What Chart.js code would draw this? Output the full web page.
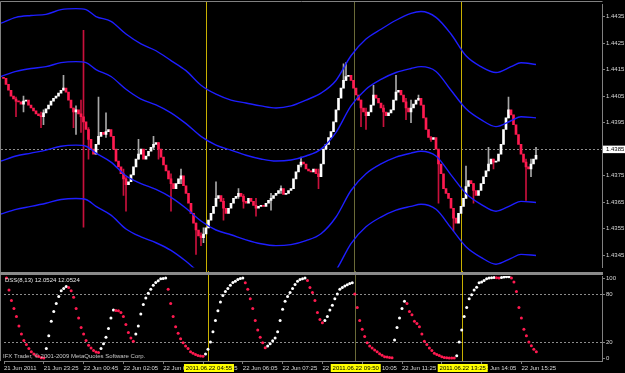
<!DOCTYPE html>
<html>
<head>
<meta charset="utf-8">
<script src="https://cdn.jsdelivr.net/npm/chart.js@4.4.1/dist/chart.umd.min.js"></script>
<style>
  html, body { margin: 0; padding: 0; background: #000; }
  #cadre { position: relative; width: 625px; height: 373px; overflow: hidden; background: #000; }
  #principal { position: absolute; left: 0; top: 0; }
  #dss { position: absolute; left: 0; top: 271px; }
</style>
</head>
<body>
<div id="cadre">
  <canvas id="principal" width="625" height="272"></canvas>
  <canvas id="dss" width="625" height="102"></canvas>
</div>
<script>
/* Graphique EURUSD M5 + indicateur DSS, façon MetaTrader */

const POLICE = '"Liberation Sans", Arial, sans-serif';
const GRIS = '#808080';
const TEXTE = '#d8d8d8';
const ROUGE = '#ff1a50';

// Numéro de barre de la première bougie
const premiereBarre = 1;
const derniereBarreAxe = 240.4;

// Axe des temps
const barresTemps = [0, 16, 32, 48, 64, 80, 96, 112, 128, 144, 160, 176, 192, 208];
const labelsTemps = ['21 Jun 2011', '21 Jun 23:25', '22 Jun 00:45', '22 Jun 02:05', '22 Jun 03:25',
    '22 Jun 04:45', '22 Jun 06:05', '22 Jun 07:25', '22 Jun 08:45', '22 Jun 10:05',
    '22 Jun 11:25', '22 Jun 12:45', '22 Jun 14:05', '22 Jun 15:25'];

// Lignes verticales
const barresMarqueurs = [82, 141, 184];
const labelsMarqueurs = ['2011.06.22 04:55', '2011.06.22 09:50', '2011.06.22 13:25'];
const couleursMarqueurs = ['#c8b000', '#6a6a38', '#c8b000'];

// Axe des prix
const ticksPrix = [1.4345, 1.4355, 1.4365, 1.4375, 1.4385, 1.4395, 1.4405, 1.4415, 1.4425, 1.4435];
const prixCourant = 1.4385;

// Bougies
const ouvertures = [
    1.44120, 1.44117, 1.44094, 1.44072, 1.44050, 1.44039, 1.44031, 1.44028, 1.44020, 1.44031,
    1.44035, 1.44016, 1.44005, 1.43994, 1.43983, 1.43976, 1.43972, 1.43987, 1.44002, 1.44016,
    1.44031, 1.44042, 1.44050, 1.44061, 1.44072, 1.44080, 1.44065, 1.44035, 1.44005, 1.43990,
    1.43998, 1.43983, 1.43972, 1.43953, 1.43924, 1.43887, 1.43850, 1.43831, 1.43868, 1.43898,
    1.43913, 1.43905, 1.43916, 1.43924, 1.43898, 1.43850, 1.43805, 1.43783, 1.43757, 1.43738,
    1.43716, 1.43727, 1.43753, 1.43783, 1.43812, 1.43831, 1.43850, 1.43812, 1.43824, 1.43842,
    1.43857, 1.43868, 1.43875, 1.43850, 1.43820, 1.43790, 1.43768, 1.43738, 1.43720, 1.43701,
    1.43720, 1.43738, 1.43749, 1.43712, 1.43683, 1.43646, 1.43608, 1.43571, 1.43545, 1.43523,
    1.43516, 1.43530, 1.43553, 1.43582, 1.43608, 1.43634, 1.43664, 1.43675, 1.43653, 1.43627,
    1.43608, 1.43627, 1.43646, 1.43664, 1.43672, 1.43683, 1.43672, 1.43653, 1.43646, 1.43664,
    1.43653, 1.43638, 1.43627, 1.43634, 1.43638, 1.43634, 1.43646, 1.43657, 1.43664, 1.43675,
    1.43683, 1.43694, 1.43701, 1.43679, 1.43683, 1.43694, 1.43701, 1.43738, 1.43764, 1.43790,
    1.43801, 1.43794, 1.43775, 1.43768, 1.43764, 1.43775, 1.43757, 1.43746, 1.43794, 1.43850,
    1.43868, 1.43894, 1.43916, 1.43953, 1.43998, 1.44042, 1.44080, 1.44109, 1.44124, 1.44128,
    1.44109, 1.44080, 1.44054, 1.44035, 1.44005, 1.43990, 1.43976, 1.43990, 1.44016, 1.44054,
    1.44042, 1.44024, 1.44005, 1.43990, 1.43976, 1.43987, 1.43998, 1.44035, 1.44065, 1.44072,
    1.44054, 1.44028, 1.44005, 1.43990, 1.44005, 1.44020, 1.44035, 1.44042, 1.44016, 1.43968,
    1.43924, 1.43894, 1.43887, 1.43894, 1.43850, 1.43794, 1.43757, 1.43701, 1.43683, 1.43664,
    1.43627, 1.43590, 1.43571, 1.43608, 1.43634, 1.43664, 1.43709, 1.43731, 1.43720, 1.43694,
    1.43675, 1.43694, 1.43720, 1.43746, 1.43768, 1.43794, 1.43812, 1.43801, 1.43805, 1.43831,
    1.43868, 1.43924, 1.43968, 1.43998, 1.43979, 1.43942, 1.43905, 1.43868, 1.43831, 1.43801,
    1.43783, 1.43775, 1.43794, 1.43812];
const clotures = [
    1.44117, 1.44094, 1.44072, 1.44050, 1.44039, 1.44031, 1.44028, 1.44020, 1.44031, 1.44035,
    1.44016, 1.44005, 1.43994, 1.43983, 1.43976, 1.43972, 1.43987, 1.44002, 1.44016, 1.44031,
    1.44042, 1.44050, 1.44061, 1.44072, 1.44080, 1.44065, 1.44035, 1.44005, 1.43990, 1.43998,
    1.43983, 1.43972, 1.43953, 1.43924, 1.43887, 1.43850, 1.43831, 1.43868, 1.43898, 1.43913,
    1.43905, 1.43916, 1.43924, 1.43898, 1.43850, 1.43805, 1.43783, 1.43757, 1.43738, 1.43716,
    1.43727, 1.43753, 1.43783, 1.43812, 1.43831, 1.43850, 1.43812, 1.43824, 1.43842, 1.43857,
    1.43868, 1.43875, 1.43850, 1.43820, 1.43790, 1.43768, 1.43738, 1.43720, 1.43701, 1.43720,
    1.43738, 1.43749, 1.43712, 1.43683, 1.43646, 1.43608, 1.43571, 1.43545, 1.43523, 1.43516,
    1.43530, 1.43553, 1.43582, 1.43608, 1.43634, 1.43664, 1.43675, 1.43653, 1.43627, 1.43608,
    1.43627, 1.43646, 1.43664, 1.43672, 1.43683, 1.43672, 1.43653, 1.43646, 1.43664, 1.43653,
    1.43638, 1.43627, 1.43634, 1.43638, 1.43634, 1.43646, 1.43657, 1.43664, 1.43675, 1.43683,
    1.43694, 1.43701, 1.43679, 1.43683, 1.43694, 1.43701, 1.43738, 1.43764, 1.43790, 1.43801,
    1.43794, 1.43775, 1.43768, 1.43764, 1.43775, 1.43757, 1.43746, 1.43794, 1.43850, 1.43868,
    1.43894, 1.43916, 1.43953, 1.43998, 1.44042, 1.44080, 1.44109, 1.44124, 1.44128, 1.44109,
    1.44080, 1.44054, 1.44035, 1.44005, 1.43990, 1.43976, 1.43990, 1.44016, 1.44054, 1.44042,
    1.44024, 1.44005, 1.43990, 1.43976, 1.43987, 1.43998, 1.44035, 1.44065, 1.44072, 1.44054,
    1.44028, 1.44005, 1.43990, 1.44005, 1.44020, 1.44035, 1.44042, 1.44016, 1.43968, 1.43924,
    1.43894, 1.43887, 1.43894, 1.43850, 1.43794, 1.43757, 1.43701, 1.43683, 1.43664, 1.43627,
    1.43590, 1.43571, 1.43608, 1.43634, 1.43664, 1.43709, 1.43731, 1.43720, 1.43694, 1.43675,
    1.43694, 1.43720, 1.43746, 1.43768, 1.43794, 1.43812, 1.43801, 1.43805, 1.43831, 1.43868,
    1.43924, 1.43968, 1.43998, 1.43979, 1.43942, 1.43905, 1.43868, 1.43831, 1.43801, 1.43783,
    1.43775, 1.43794, 1.43812, 1.43827];

// Mèches visibles (indice de bougie, haut, bas)
const indicesMeches = [5, 8, 15, 16, 24, 28, 29, 31, 32, 34, 38, 41, 48, 49, 54, 60, 62, 67, 71, 77,
    79, 80, 85, 88, 94, 96, 101, 107, 111, 119, 126, 136, 137, 143, 145, 148, 152, 157, 161, 163,
    166, 171, 174, 180, 185, 188, 194, 196, 202, 209, 211, 213];
const mechesHaut = [1.44046, 1.44050, 1.43990, 1.43998, 1.44128, 1.44005, 1.44013, 1.44035, 1.44298, 1.43931,
    1.44046, 1.43987, 1.43775, 1.43746, 1.43887, 1.43898, 1.43875, 1.43757, 1.43775, 1.43571,
    1.43534, 1.43553, 1.43727, 1.43664, 1.43701, 1.43679, 1.43664, 1.43683, 1.43712, 1.43820,
    1.43775, 1.44172, 1.44176, 1.44035, 1.44005, 1.44091, 1.44016, 1.44128, 1.44042, 1.44035,
    1.44054, 1.43898, 1.43812, 1.43608, 1.43786, 1.43720, 1.43857, 1.43812, 1.44046, 1.43812,
    1.43812, 1.43857];
const mechesBas = [1.43972, 1.43990, 1.43931, 1.43942, 1.44072, 1.43931, 1.43905, 1.43913, 1.43556, 1.43812,
    1.43887, 1.43894, 1.43675, 1.43616, 1.43812, 1.43850, 1.43812, 1.43616, 1.43720, 1.43453,
    1.43486, 1.43497, 1.43646, 1.43582, 1.43664, 1.43627, 1.43597, 1.43620, 1.43683, 1.43783,
    1.43701, 1.44102, 1.44109, 1.43935, 1.43924, 1.44035, 1.43935, 1.44054, 1.43961, 1.43950,
    1.44035, 1.43879, 1.43646, 1.43542, 1.43701, 1.43646, 1.43783, 1.43775, 1.43968, 1.43657,
    1.43746, 1.43820];

// Enveloppes bleues (numéro de barre, puis 4 courbes)
const barresBandes = [0, 6, 12, 18, 24, 30, 34, 38, 44, 50, 56, 62, 68, 74, 80, 86, 92, 98, 104, 110,
    116, 122, 128, 134, 140, 146, 152, 158, 164, 168, 174, 180, 186, 192, 198, 204, 208, 214];
const bandeA = [1.44325, 1.44347, 1.44354, 1.44358, 1.44376, 1.44380, 1.44376, 1.44350, 1.44332, 1.44284,
    1.44247, 1.44221, 1.44184, 1.44146, 1.44091, 1.44057, 1.44035, 1.44024, 1.44013, 1.44005,
    1.44013, 1.44035, 1.44061, 1.44109, 1.44202, 1.44265, 1.44302, 1.44336, 1.44362, 1.44369,
    1.44347, 1.44284, 1.44202, 1.44161, 1.44139, 1.44161, 1.44176, 1.44169];
const bandeB = [1.44124, 1.44143, 1.44154, 1.44161, 1.44176, 1.44180, 1.44176, 1.44150, 1.44124, 1.44076,
    1.44039, 1.44017, 1.43987, 1.43946, 1.43898, 1.43865, 1.43846, 1.43827, 1.43813, 1.43805,
    1.43809, 1.43824, 1.43850, 1.43913, 1.44013, 1.44076, 1.44113, 1.44139, 1.44154, 1.44161,
    1.44143, 1.44072, 1.44002, 1.43961, 1.43935, 1.43957, 1.43972, 1.43968];
const bandeC = [1.43805, 1.43824, 1.43835, 1.43846, 1.43861, 1.43865, 1.43861, 1.43835, 1.43801, 1.43749,
    1.43720, 1.43698, 1.43668, 1.43627, 1.43579, 1.43545, 1.43527, 1.43508, 1.43493, 1.43486,
    1.43490, 1.43505, 1.43531, 1.43594, 1.43694, 1.43757, 1.43794, 1.43820, 1.43835, 1.43842,
    1.43824, 1.43753, 1.43683, 1.43642, 1.43616, 1.43638, 1.43653, 1.43649];
const bandeD = [1.43605, 1.43623, 1.43634, 1.43646, 1.43660, 1.43664, 1.43660, 1.43634, 1.43601, 1.43549,
    1.43519, 1.43497, 1.43468, 1.43427, 1.43379, 1.43345, 1.43327, 1.43308, 1.43293, 1.43286,
    1.43289, 1.43304, 1.43330, 1.43393, 1.43494, 1.43557, 1.43594, 1.43620, 1.43634, 1.43642,
    1.43623, 1.43553, 1.43482, 1.43442, 1.43416, 1.43438, 1.43453, 1.43449];

// Indicateur DSS (une valeur par bougie)
const dss = [
    100, 85, 72, 62, 52, 40, 30, 22, 17, 12,
    8, 5, 3, 2, 0.5, 0, 12, 28, 46, 58,
    68, 77, 84, 87, 89.5, 88, 84, 76, 62, 50,
    38, 30, 22, 16, 12.5, 9.5, 7.5, 7, 12, 18,
    26, 37, 50, 60, 59.5, 59, 57, 52, 42, 32,
    25, 21, 30, 40, 55, 67, 75, 81, 86, 91,
    94.5, 96.5, 99, 99.5, 100, 86, 68, 52, 39, 31,
    24, 19, 15, 12, 8, 6, 4.5, 3.2, 2.6, 2.2,
    5, 11, 20, 33, 47, 59, 70, 78, 83, 87,
    91, 94.5, 96, 98, 99.5, 100, 94, 86, 74, 62,
    47, 35, 26, 19, 13, 15, 18, 21.5, 25, 33,
    47, 61, 71, 77, 82, 87, 92, 96, 98, 99,
    100, 97, 88, 82, 72, 57, 48, 44, 47, 52,
    60, 66, 74, 80, 86, 88, 90, 91.5, 93, 94,
    80, 63, 47, 36, 27, 19, 15, 12.5, 10, 8,
    5.5, 3.5, 1.6, 1.2, 0.8, 0.5, 22.5, 38, 50, 62,
    71, 68, 58, 54, 46, 43, 39, 30, 21, 17,
    12.5, 9.5, 6, 4.5, 3.2, 1.6, 0.8, 0.3, 0.1, 0.05,
    0, 3, 20, 35, 52, 63, 74, 79, 85, 88.5,
    94, 95, 97, 99, 100, 100.3, 100.5, 100.2, 100, 100.6,
    101.2, 101.5, 101.6, 100, 95, 83, 63, 50, 36, 28,
    20, 15.5, 11, 8];
const niveauxDss = [20, 80];
const ticksDss = [0, 20, 80, 100];


// Construction des séries
const hausse = ouvertures.map((o, j) => clotures[j] >= o);
const corps = ouvertures.map((o, j) => ({ x: j + premiereBarre, y: [o, clotures[j]] }));
const meches = indicesMeches.map((j, k) => ({ x: j + premiereBarre, y: [mechesBas[k], mechesHaut[k]] }));
const couleursMeches = indicesMeches.map(j => hausse[j] ? '#a8a8a8' : '#c8103c');
const pointsDss = dss.map((v, j) => ({ x: j + premiereBarre, y: v }));
const couleursDss = dss.map((v, j) => (j > 0 && v >= dss[j - 1]) ? '#ffffff' : ROUGE);

function bande(valeurs) {
    return {
        type: 'line',
        data: barresBandes.map((b, k) => ({ x: b, y: valeurs[k] })),
        borderColor: '#1e1eff',
        borderWidth: 1.4,
        pointRadius: 0,
        cubicInterpolationMode: 'monotone',
        order: 0,
    };
}

function police(taille) {
    return taille + 'px ' + POLICE;
}


// Décor du graphique principal
const decorPrincipal = {
    id: 'decorPrincipal',
    beforeDatasetsDraw(chart) {
        const { ctx, chartArea: a, scales: { x, y } } = chart;
        ctx.save();
        ctx.lineWidth = 1;
        // ligne pointillée du prix
        const yp = Math.round(y.getPixelForValue(prixCourant)) + 0.5;
        ctx.strokeStyle = '#8c8c8c';
        ctx.setLineDash([2, 2]);
        ctx.beginPath();
        ctx.moveTo(a.left, yp);
        ctx.lineTo(a.right, yp);
        ctx.stroke();
        ctx.setLineDash([]);
        // lignes verticales
        barresMarqueurs.forEach((b, k) => {
            const xp = Math.round(x.getPixelForValue(b)) + 0.5;
            ctx.strokeStyle = couleursMarqueurs[k];
            ctx.beginPath();
            ctx.moveTo(xp, 2);
            ctx.lineTo(xp, chart.height);
            ctx.stroke();
        });
        ctx.restore();
    },
    afterDraw(chart) {
        const { ctx, chartArea: a, scales: { y } } = chart;
        ctx.save();
        // cadre
        ctx.strokeStyle = GRIS;
        ctx.lineWidth = 1;
        ctx.beginPath();
        ctx.moveTo(0.5, chart.height);
        ctx.lineTo(0.5, 1.5);
        ctx.lineTo(a.right + 0.5, 1.5);
        ctx.stroke();
        // étiquette du prix courant
        const yp = y.getPixelForValue(prixCourant);
        ctx.fillStyle = '#ffffff';
        ctx.fillRect(a.right + 1, yp - 3.5, 22, 7.5);
        ctx.fillStyle = '#000000';
        ctx.font = police(6);
        ctx.textAlign = 'left';
        ctx.textBaseline = 'middle';
        ctx.fillText(prixCourant.toFixed(4), a.right + 4, yp + 0.5);
        ctx.restore();
    }
};

// Décor du DSS
const decorDss = {
    id: 'decorDss',
    beforeDatasetsDraw(chart) {
        const { ctx, chartArea: a, scales: { x, y } } = chart;
        ctx.save();
        ctx.lineWidth = 1;
        ctx.strokeStyle = '#8c8c8c';
        ctx.setLineDash([2, 2]);
        niveauxDss.forEach(n => {
            const yp = Math.round(y.getPixelForValue(n)) + 0.5;
            ctx.beginPath();
            ctx.moveTo(a.left, yp);
            ctx.lineTo(a.right, yp);
            ctx.stroke();
        });
        ctx.setLineDash([]);
        barresMarqueurs.forEach((b, k) => {
            const xp = Math.round(x.getPixelForValue(b)) + 0.5;
            ctx.strokeStyle = couleursMarqueurs[k];
            ctx.beginPath();
            ctx.moveTo(xp, 0);
            ctx.lineTo(xp, a.bottom);
            ctx.stroke();
        });
        ctx.restore();
    },
    afterDraw(chart) {
        const { ctx, chartArea: a, scales: { x } } = chart;
        ctx.save();
        // séparateur entre les fenêtres
        ctx.fillStyle = '#8a8a8a';
        ctx.fillRect(0, 1, a.right + 1, 3);
        // bord gauche
        ctx.strokeStyle = GRIS;
        ctx.lineWidth = 1;
        ctx.beginPath();
        ctx.moveTo(0.5, 4);
        ctx.lineTo(0.5, a.bottom);
        ctx.stroke();
        // textes
        ctx.font = police(6);
        ctx.textAlign = 'left';
        ctx.textBaseline = 'middle';
        ctx.fillStyle = '#e6e6e6';
        ctx.fillText('DSS(8,13) 12.0524 12.0524', 5, 9);
        ctx.fillStyle = '#c8c8c8';
        ctx.fillText('IFX Trader, © 2001-2009 MetaQuotes Software Corp.', 3, 85.5);
        // étiquettes jaunes des lignes verticales
        barresMarqueurs.forEach((b, k) => {
            const xp = x.getPixelForValue(b);
            ctx.fillStyle = '#ffff00';
            ctx.fillRect(xp - 24, a.bottom + 3, 50, 8);
            ctx.fillStyle = '#000000';
            ctx.textAlign = 'center';
            ctx.fillText(labelsMarqueurs[k], xp + 1, a.bottom + 7.5);
        });
        ctx.restore();
    }
};


// Graphique principal : bougies + enveloppes
new Chart(document.getElementById('principal'), {
    type: 'bar',
    data: {
        datasets: [
            bande(bandeA), bande(bandeB), bande(bandeC), bande(bandeD),
            {
                data: corps,
                backgroundColor: hausse.map(h => h ? '#ffffff' : ROUGE),
                barThickness: 2,
                minBarLength: 1,
                grouped: false,
                order: 1,
            },
            {
                data: meches,
                backgroundColor: couleursMeches,
                barThickness: 1,
                grouped: false,
                order: 2,
            },
        ],
    },
    options: {
        responsive: false,
        animation: false,
        devicePixelRatio: 1,
        layout: { padding: { left: 1, top: 3, right: 0, bottom: 2 } },
        plugins: { legend: { display: false }, tooltip: { enabled: false } },
        scales: {
            x: { type: 'linear', min: 0, max: derniereBarreAxe, offset: false, display: false },
            y: {
                type: 'linear',
                position: 'right',
                min: 1.43404,
                max: 1.44395,
                afterFit: (s) => { s.width = 23; },
                afterBuildTicks: (s) => { s.ticks = ticksPrix.map(v => ({ value: v })); },
                grid: { drawOnChartArea: false, drawTicks: true, tickLength: 3, color: GRIS },
                border: { display: true, color: GRIS },
                ticks: { color: TEXTE, font: { family: POLICE, size: 6 }, padding: 1, callback: v => v.toFixed(4) },
            },
        },
    },
    plugins: [decorPrincipal],
});

// Fenêtre du DSS
new Chart(document.getElementById('dss'), {
    type: 'scatter',
    data: {
        datasets: [{
            data: pointsDss,
            pointRadius: 1.5,
            pointBorderWidth: 0,
            pointBackgroundColor: couleursDss,
            showLine: false,
        }],
    },
    options: {
        responsive: false,
        animation: false,
        devicePixelRatio: 1,
        layout: { padding: { left: 1, top: 5, right: 0, bottom: 0 } },
        plugins: { legend: { display: false }, tooltip: { enabled: false } },
        scales: {
            x: {
                type: 'linear',
                min: 0,
                max: derniereBarreAxe,
                offset: false,
                afterFit: (s) => { s.height = 12; },
                afterBuildTicks: (s) => { s.ticks = barresTemps.map(v => ({ value: v })); },
                grid: { drawOnChartArea: false, drawTicks: true, tickLength: 3, color: GRIS },
                border: { display: true, color: GRIS },
                ticks: {
                    color: TEXTE, font: { family: POLICE, size: 6 }, padding: 1,
                    align: 'start', maxRotation: 0, autoSkip: false,
                    callback: (v, i) => labelsTemps[i],
                },
            },
            y: {
                type: 'linear',
                position: 'right',
                min: -3.7,
                max: 102.5,
                afterFit: (s) => { s.width = 23; },
                afterBuildTicks: (s) => { s.ticks = ticksDss.map(v => ({ value: v })); },
                grid: { drawOnChartArea: false, drawTicks: true, tickLength: 3, color: GRIS },
                border: { display: true, color: GRIS },
                ticks: { color: TEXTE, font: { family: POLICE, size: 6 }, padding: 1 },
            },
        },
    },
    plugins: [decorDss],
});
</script>
</body>
</html>
